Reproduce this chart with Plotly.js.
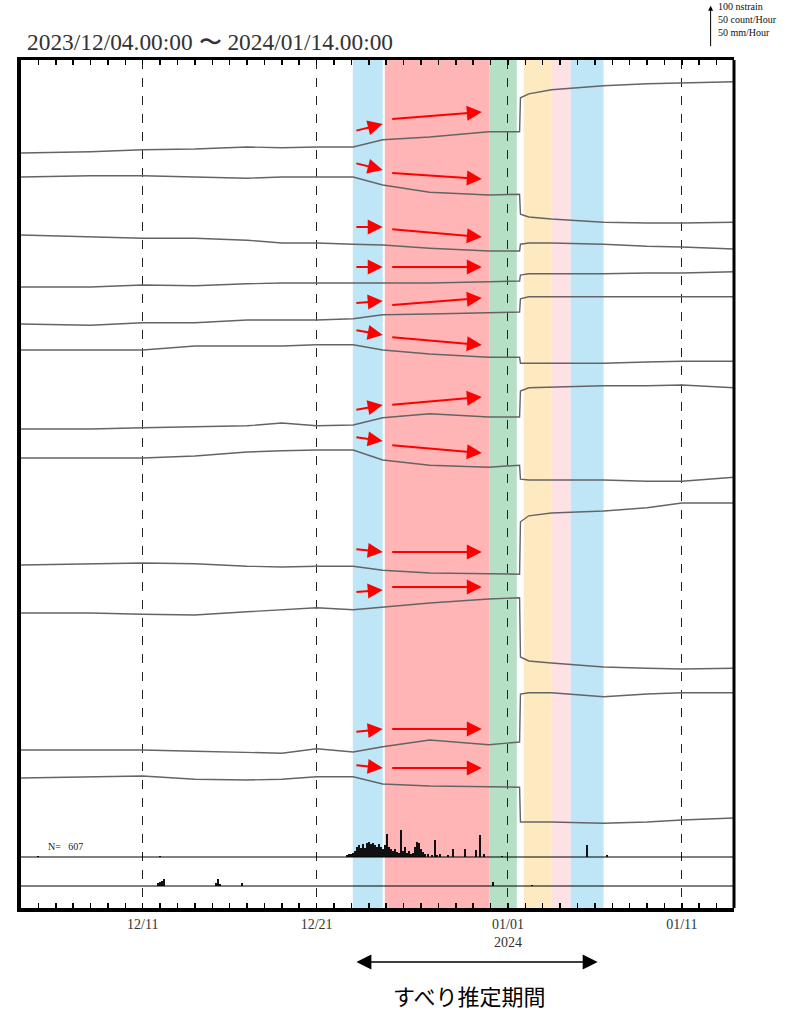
<!DOCTYPE html>
<html><head><meta charset="utf-8">
<script src="https://cdn.plot.ly/plotly-3.0.1.min.js"></script>
<style>html,body{margin:0;padding:0;background:#fff;}</style>
</head><body><div id="chart" style="width:807px;height:1010px;"></div>
<script>
// ---------------- DATA ----------------
const rangeStart = '2023-12-04';
const rangeEnd = '2024-01-14';
const tickDates = ['2023-12-11', '2023-12-21', '2024-01-01', '2024-01-11'];
const tickLabels = ['12/11', '12/21', '01/01<br>2024', '01/11'];

// sample times: days since 2023-12-04 00:00
const sampleDays = [0, 4, 7, 10, 13, 15, 17, 19.1, 20.8, 23.5, 26.9, 28.67, 28.72, 29.2, 30.5, 33.5, 36, 38, 41];

// strain change of each channel (nstrain), relative to its start
const ch1  = [0, 3, 8, 10, 15, 13, 15, 15, 33, 40, 53, 53, 138, 148, 158, 168, 173, 175, 178];
const ch2  = [0, 3, 3, 0, -3, 0, 0, 0, -20, -38, -45, -43, -93, -100, -105, -113, -115, -115, -113];
const ch3  = [0, -5, -8, -8, -13, -20, -20, -23, -25, -33, -40, -40, -23, -20, -20, -23, -28, -30, -35];
const ch4  = [0, 0, 5, 3, 8, 10, 10, 10, 10, 10, 13, 15, 30, 33, 33, 33, 35, 35, 38];
const ch5  = [0, -3, 3, 3, 10, 10, 10, 13, 23, 25, 28, 30, 63, 68, 68, 68, 68, 68, 68];
const ch6  = [0, 0, 0, 10, 10, 10, 13, 13, 0, -10, -18, -18, -33, -33, -33, -33, -30, -28, -28];
const ch7  = [0, 0, 3, 5, 8, 15, 8, 10, 28, 38, 30, 30, 95, 103, 105, 108, 108, 110, 103];
const ch8  = [0, 0, 0, 5, 15, 18, 20, 20, -5, -18, -23, -18, -53, -55, -55, -55, -58, -58, -48];
const ch9  = [0, 3, 5, 3, -3, -5, -3, -3, -13, -20, -23, -23, 108, 123, 130, 135, 143, 155, 155];
const ch10 = [0, 0, -3, -5, 3, 8, 13, 8, 15, 25, 35, 38, -110, -120, -125, -135, -138, -140, -138];
const ch11 = [0, 0, 0, -3, -5, -8, 3, -5, 8, 25, 13, 20, 140, 143, 143, 133, 140, 143, 143];
const ch12 = [0, 3, 5, -3, -5, -3, 3, 3, -15, -20, -23, -23, -110, -110, -110, -113, -110, -105, -100];
const channels = [ch1, ch2, ch3, ch4, ch5, ch6, ch7, ch8, ch9, ch10, ch11, ch12];
// vertical offsets of channel traces (display units)
const channelOffsets = [1887.5, 1827.5, 1682.5, 1552.5, 1460, 1395, 1197.5, 1125, 857.5, 737.5, 395, 325];

// hourly earthquake counts (day since start, count/hour)
const quakeDays = [0.98, 7.99, 18.74, 18.85, 18.97, 19.08, 19.20, 19.31, 19.43, 19.54, 19.66, 19.77, 19.89, 20.00, 20.11, 20.23, 20.34, 20.46, 20.57, 20.69, 20.80, 20.92, 21.03, 21.15, 21.26, 21.38, 21.49, 21.61, 21.72, 21.84, 21.95, 22.07, 22.18, 22.30, 22.41, 22.53, 22.64, 22.76, 22.87, 22.99, 23.10, 23.22, 23.39, 23.62, 23.79, 23.91, 24.08, 24.54, 24.83, 25.52, 26.15, 26.38, 26.61, 27.64, 32.53, 33.68];
const quakeCounts = [1, 1, 3, 4, 4, 5, 8, 13, 15, 11, 16, 11, 18, 19, 16, 18, 15, 13, 16, 13, 10, 15, 29, 13, 10, 8, 10, 6, 5, 34, 8, 13, 5, 8, 4, 5, 13, 19, 18, 10, 6, 4, 4, 3, 21, 3, 4, 3, 10, 10, 9, 28, 4, 1, 15, 3];
const quakeTotal = 607;

// hourly rainfall (day since start, mm/hour)
const rainDays = [7.87, 7.99, 8.10, 8.22, 11.21, 11.32, 11.44, 12.70, 27.13, 29.37];
const rainMm = [4, 5, 6, 9, 4, 9, 3, 4, 5, 1];

// shaded periods (days since start)
const bandStart = [19.08, 20.92, 26.95, 28.91, 30.52, 31.61];
const bandEnd   = [20.80, 26.95, 28.51, 30.52, 31.61, 33.50];
const bandColor = ['#bfe6f7', '#ffb5b5', '#b5e0c6', '#fdeac0', '#fde1e4', '#bfe6f7'];

// red trend arrows: times (days) and values (display units) per channel
const shortArrowT = [19.2, 20.8];
const longArrowT = [21.26, 26.5];
const shortArrowY0 = [1942.5, 1862.5, 1702.5, 1602.5, 1512.5, 1445, 1245, 1177.5, 897.5, 790, 440, 357.5];
const shortArrowY1 = [1960, 1845, 1702.5, 1602.5, 1517.5, 1432.5, 1257.5, 1167.5, 890, 795, 447.5, 350];
const longArrowY0 = [1972.5, 1837.5, 1697.5, 1602.5, 1507.5, 1427.5, 1257.5, 1157.5, 890, 802.5, 447.5, 350];
const longArrowY1 = [1990, 1822.5, 1677.5, 1602.5, 1525, 1407.5, 1277.5, 1137.5, 890, 802.5, 447.5, 350];

// slip estimation period arrow (days)
const slipPeriod = [19.2, 33.16];

// ---------------- BUILD ----------------
const T0 = Date.UTC(2023, 11, 4);
function d2s(d) {
  return new Date(T0 + d * 86400000).toISOString().replace('T', ' ').slice(0, 19);
}
const xs = sampleDays.map(d2s);
const traces = [];
channels.forEach((c, i) => {
  traces.push({
    x: xs, y: c.map(v => v + channelOffsets[i]),
    type: 'scatter', mode: 'lines',
    line: {color: '#646464', width: 1.4},
    hoverinfo: 'skip', showlegend: false
  });
});
traces.push({
  x: quakeDays.map(d2s), y: quakeCounts, type: 'bar', yaxis: 'y2',
  width: 0.1 * 86400000, marker: {color: '#111', line: {width: 0}},
  showlegend: false, hoverinfo: 'skip'
});
traces.push({
  x: rainDays.map(d2s), y: rainMm, type: 'bar', yaxis: 'y3',
  width: 0.12 * 86400000, marker: {color: '#111', line: {width: 0}},
  showlegend: false, hoverinfo: 'skip'
});
// invisible trace to activate top axis
traces.push({x: [rangeStart, rangeEnd], y: [0, 0], xaxis: 'x2', mode: 'lines',
  line: {width: 0}, hoverinfo: 'skip', showlegend: false});

const shapes = [];
bandStart.forEach((s, i) => {
  shapes.push({type: 'rect', xref: 'x', yref: 'paper', x0: d2s(s), x1: d2s(bandEnd[i]),
    y0: 0, y1: 1, fillcolor: bandColor[i], line: {width: 0}, layer: 'below'});
});
shapes.push({type: 'line', xref: 'paper', yref: 'y2', x0: 0, x1: 1, y0: 0, y1: 0,
  line: {color: '#000', width: 1}, layer: 'above'});
shapes.push({type: 'line', xref: 'paper', yref: 'y3', x0: 0, x1: 1, y0: 0, y1: 0,
  line: {color: '#000', width: 1}, layer: 'above'});
shapes.push({type: 'line', xref: 'paper', yref: 'paper', x0: 1, x1: 1, y0: 0, y1: 1,
  line: {color: '#000', width: 3}, layer: 'above'});

const annotations = [];
channels.forEach((c, i) => {
  annotations.push({x: d2s(shortArrowT[1]), y: shortArrowY1[i], ax: d2s(shortArrowT[0]), ay: shortArrowY0[i],
    xref: 'x', yref: 'y', axref: 'x', ayref: 'y', text: '', showarrow: true,
    arrowhead: 2, arrowsize: 1.5, arrowwidth: 2, arrowcolor: '#ff0000', standoff: 0});
  annotations.push({x: d2s(longArrowT[1]), y: longArrowY1[i], ax: d2s(longArrowT[0]), ay: longArrowY0[i],
    xref: 'x', yref: 'y', axref: 'x', ayref: 'y', text: '', showarrow: true,
    arrowhead: 2, arrowsize: 1.5, arrowwidth: 2, arrowcolor: '#ff0000', standoff: 0});
});
annotations.push({x: 0.035, y: 0.072, xref: 'paper', yref: 'paper', xanchor: 'left', yanchor: 'middle',
  text: 'N=   ' + quakeTotal, showarrow: false, font: {family: 'Liberation Serif', size: 10, color: '#222'}});
// scale legend
annotations.push({x: 0.9672, y: 1.064, xref: 'paper', yref: 'paper', ax: 0, ay: 42, text: '',
  showarrow: true, arrowhead: 2, arrowsize: 1, arrowwidth: 1, arrowcolor: '#000', standoff: 0});
annotations.push({x: 0.975, y: 1.072, xref: 'paper', yref: 'paper', xanchor: 'left', yanchor: 'top', align: 'left',
  text: '100 nstrain<br>50 count/Hour<br>50 mm/Hour', showarrow: false,
  font: {family: 'Liberation Serif', size: 10, color: '#111'}});
// slip period arrow
annotations.push({x: d2s(slipPeriod[1]), y: -0.0637, xref: 'x', yref: 'paper', axref: 'x', ax: d2s(slipPeriod[0]), ay: 0,
  text: '', showarrow: true, arrowside: 'end+start', arrowhead: 2, startarrowhead: 2,
  arrowsize: 2, startarrowsize: 2, arrowwidth: 1.5, arrowcolor: '#000', standoff: 0, startstandoff: 0});
annotations.push({x: 0.629, y: -0.1026, xref: 'paper', yref: 'paper', xanchor: 'center', yanchor: 'middle',
  text: 'すべり推定期間', showarrow: false, font: {family: 'Noto Sans CJK JP', size: 22, color: '#000'}});

const layout = {
  width: 807, height: 1010,
  margin: {l: 21, r: 73, t: 60, b: 102},
  paper_bgcolor: '#fff', plot_bgcolor: '#fff',
  showlegend: false,
  title: {text: '2023/12/04.00:00 〜 2024/01/14.00:00', x: 27 / 807, xanchor: 'left', xref: 'container',
    y: 1 - 42 / 1010, yanchor: 'middle', yref: 'container',
    font: {family: 'Liberation Serif', size: 23.4, color: '#333'}},
  xaxis: {type: 'date', range: [rangeStart, rangeEnd], tickvals: tickDates, ticktext: tickLabels,
    ticks: 'inside', ticklen: 5, tickwidth: 1.5, tickcolor: '#000',
    showgrid: true, gridcolor: '#222', griddash: 'dash', gridwidth: 1,
    showline: true, linecolor: '#000', linewidth: 4, zeroline: false,
    tickfont: {family: 'Liberation Serif', size: 14, color: '#333'},
    minor: {dtick: 86400000, tick0: rangeStart, ticks: 'inside', ticklen: 5, tickwidth: 1.5, tickcolor: '#000', showgrid: false},
    fixedrange: true},
  xaxis2: {type: 'date', overlaying: 'x', side: 'top', range: [rangeStart, rangeEnd], tickvals: tickDates,
    showticklabels: false, ticks: 'inside', ticklen: 5, tickwidth: 1.5, tickcolor: '#000',
    showgrid: false, showline: true, linecolor: '#000', linewidth: 3, zeroline: false,
    minor: {dtick: 86400000, tick0: rangeStart, ticks: 'inside', ticklen: 5, tickwidth: 1.5, tickcolor: '#000', showgrid: false},
    fixedrange: true},
  yaxis: {range: [0, 2120], showticklabels: false, ticks: '', showgrid: false, zeroline: false,
    showline: true, linecolor: '#000', linewidth: 4, fixedrange: true},
  yaxis2: {overlaying: 'y', range: [-63.75, 996.25], visible: false, fixedrange: true},
  yaxis3: {overlaying: 'y', range: [-27.5, 1032.5], visible: false, fixedrange: true},
  bargap: 0,
  shapes: shapes,
  annotations: annotations
};
Plotly.newPlot('chart', traces, layout, {displayModeBar: false, staticPlot: true});
</script></body></html>
